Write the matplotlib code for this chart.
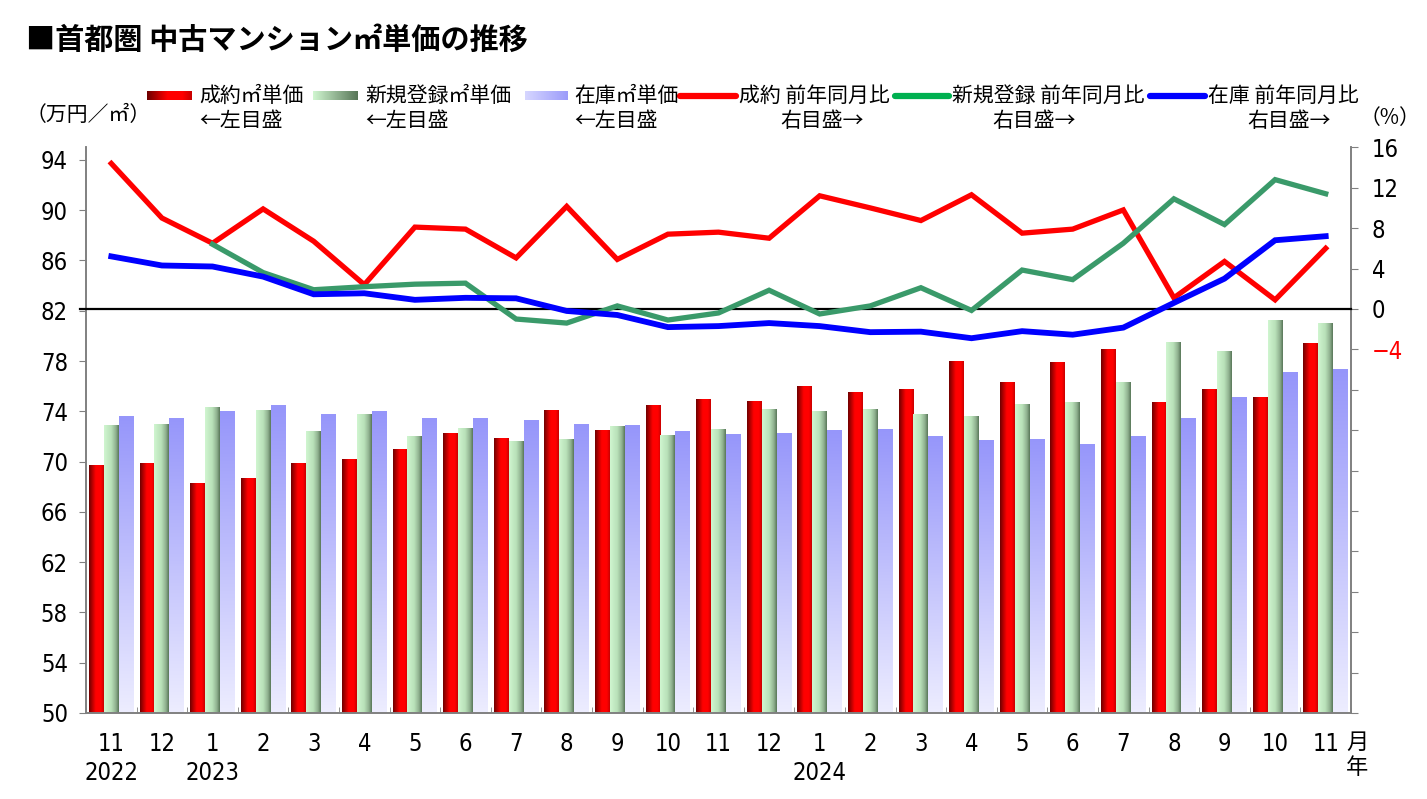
import numpy as np
import matplotlib
matplotlib.use('Agg')
import matplotlib.pyplot as plt
from matplotlib.colors import LinearSegmentedColormap
from matplotlib import font_manager

# ---------------- data ----------------
months = ['11', '12', '1', '2', '3', '4', '5', '6', '7', '8', '9', '10',
          '11', '12', '1', '2', '3', '4', '5', '6', '7', '8', '9', '10', '11']
year_labels = {0: '2022', 2: '2023', 14: '2024'}

contract_price = [69.7, 69.9, 68.3, 68.7, 69.9, 70.2, 71.0, 72.3, 71.9, 74.1, 72.5, 74.5,
                  75.0, 74.85, 76.0, 75.5, 75.8, 78.0, 76.35, 77.95, 78.95, 74.75, 75.8, 75.15, 79.4]
new_price = [72.9, 73.0, 74.35, 74.1, 72.4, 73.8, 72.0, 72.7, 71.6, 71.8, 72.8, 72.1,
             72.6, 74.2, 74.0, 74.2, 73.75, 73.65, 74.6, 74.75, 76.3, 79.5, 78.8, 81.3, 81.0]
stock_price = [73.6, 73.5, 74.0, 74.5, 73.8, 74.0, 73.5, 73.5, 73.3, 73.0, 72.9, 72.4,
               72.2, 72.3, 72.5, 72.6, 72.05, 71.7, 71.8, 71.4, 72.0, 73.5, 75.1, 77.1, 77.4]

contract_yoy = [14.4, 9.0, 6.5, 9.9, 6.7, 2.4, 8.1, 7.9, 5.05, 10.15, 4.9, 7.4,
                7.6, 7.0, 11.2, 10.0, 8.75, 11.3, 7.5, 7.9, 9.8, 1.1, 4.7, 0.9, 6.0]
new_yoy = [np.nan, np.nan, 6.4, 3.6, 1.9, 2.2, 2.45, 2.55, -1.0, -1.4, 0.3, -1.1,
           -0.4, 1.85, -0.5, 0.3, 2.1, -0.15, 3.85, 2.9, 6.5, 10.9, 8.35, 12.8, 11.4]
stock_yoy = [5.2, 4.3, 4.2, 3.2, 1.45, 1.55, 0.9, 1.1, 1.05, -0.2, -0.6, -1.8,
             -1.7, -1.4, -1.7, -2.3, -2.25, -2.9, -2.2, -2.55, -1.85, 0.6, 3.0, 6.8, 7.2]

left_ticks = list(range(50, 95, 4))
right_ticks = list(range(-40, 17, 4))

# ---------------- fonts ----------------
available = {f.name for f in font_manager.fontManager.ttflist}
if 'Liberation Sans Narrow' in available:
    NUM = dict(family='Liberation Sans Narrow')
else:
    NUM = dict(family='DejaVu Sans', stretch='condensed')
NUM_SIZE = 17
JP = ['Noto Sans CJK JP', 'DejaVu Sans']
plt.rcParams['font.family'] = JP

W, H = 1427, 799
fig = plt.figure(figsize=(W / 100, H / 100), dpi=100)
fig.patch.set_facecolor('white')

L, R, T, B = 86, 1351, 147.3, 713
ax = fig.add_axes([L / W, 1 - B / H, (R - L) / W, (B - T) / H])
ax2 = ax.twinx()

x = np.arange(len(months))
bw = 0.295

cm_red = LinearSegmentedColormap.from_list('r', [(0, '#6E0000'), (0.45, '#FF0000'), (0.8, '#FF0000'), (1, '#C80000')])
cm_green = LinearSegmentedColormap.from_list('g', [(0, '#D0F6D0'), (0.5, '#B8E0B8'), (0.8, '#8FB08F'), (1, '#587658')])
cm_blue = LinearSegmentedColormap.from_list('b', [(0, '#EDEDFF'), (1, '#9696FA')])


def grad_bars(axis, bars, cmap, direction):
    for p in bars:
        x0, y0 = p.get_x(), p.get_y()
        w, h = p.get_width(), p.get_height()
        if direction == 'h':
            arr = np.linspace(0, 1, 128).reshape(1, -1)
        else:
            arr = np.linspace(0, 1, 128).reshape(-1, 1)
        im = axis.imshow(arr, cmap=cmap, extent=[x0, x0 + w, y0, y0 + h], origin='lower',
                         aspect='auto', interpolation='bilinear', zorder=2)
        im.set_clip_path(p)
        p.set_facecolor('none')
        p.set_edgecolor('none')


b1 = ax.bar(x - bw, np.array(contract_price) - 50, bottom=50, width=bw, zorder=2)
b2 = ax.bar(x, np.array(new_price) - 50, bottom=50, width=bw, zorder=2)
b3 = ax.bar(x + bw, np.array(stock_price) - 50, bottom=50, width=bw, zorder=2)
grad_bars(ax, b1, cm_red, 'h')
grad_bars(ax, b2, cm_green, 'h')
grad_bars(ax, b3, cm_blue, 'v')

ax.set_xlim(-0.5, len(months) - 0.5)
ax.set_ylim(50, 95)
ax.set_yticks(left_ticks)
ax.set_yticklabels([str(t) for t in left_ticks], fontsize=NUM_SIZE, **NUM)
ax.set_xticks(x)
ax.set_xticklabels(months, fontsize=NUM_SIZE, **NUM)
ax.set_xticks(np.arange(-0.5, len(months), 1), minor=True)
ax.tick_params(axis='x', which='major', length=0, pad=14)
ax.tick_params(axis='x', which='minor', length=4, direction='in', color='#808080')
ax.tick_params(axis='y', length=5, color='#808080', pad=8)

# lines on right axis
ax2.plot([-0.62, len(months) - 0.5], [0, 0], color='black', lw=1.6, zorder=3, clip_on=False)
ax2.plot(x, contract_yoy, color='#FF0000', lw=3.8, solid_joinstyle='miter', zorder=4)
ax2.plot(x, new_yoy, color='#3A9A6A', lw=3.8, solid_joinstyle='miter', zorder=4)
ax2.plot(x, stock_yoy, color='#0000FF', lw=4.2, solid_joinstyle='miter', zorder=4)
ax2.set_ylim(-40, 16)
ax2.set_yticks(right_ticks)
ax2.set_yticklabels([('\u2212' + str(-t) if t < 0 else str(t)) if t >= -4 else '' for t in right_ticks],
                    fontsize=NUM_SIZE, **NUM)
for t, lab in zip(right_ticks, ax2.get_yticklabels()):
    if t == -4:
        lab.set_color('#FF0000')
ax2.tick_params(axis='y', length=5, color='#808080', pad=10)

for a in (ax, ax2):
    a.spines['top'].set_visible(False)
    for s in ('left', 'right', 'bottom'):
        a.spines[s].set_color('#808080')
        a.spines[s].set_linewidth(1.2)

for i, yl in year_labels.items():
    ax.text(i, -0.106, yl, transform=ax.get_xaxis_transform(), ha='center', va='center',
            fontsize=NUM_SIZE, **NUM)

# ---------------- overlay (title, legend, units) ----------------
ov = fig.add_axes([0, 0, 1, 1])
ov.set_xlim(0, W)
ov.set_ylim(H, 0)
ov.axis('off')

ov.text(26, 40, '■首都圏 中古マンション㎡単価の推移', fontsize=21, fontweight='bold', va='center', ha='left')
ov.text(26, 115, '（万円／㎡）', fontsize=15, va='center', ha='left')
ov.text(1360, 118, '（%）', fontsize=15, va='center', ha='left')
ov.text(1346, 742, '月', fontsize=16, va='center', ha='left')
ov.text(1346, 768, '年', fontsize=16, va='center', ha='left')


def leg_patch(x0, x1, cmap):
    arr = np.linspace(0, 1, 64).reshape(1, -1)
    ov.imshow(arr, cmap=cmap, extent=[x0, x1, 100, 91], aspect='auto', interpolation='bilinear')


leg_patch(147, 192, cm_red)
leg_patch(313, 358, LinearSegmentedColormap.from_list('g2', ['#D0F6D0', '#587658']))
leg_patch(525, 568, LinearSegmentedColormap.from_list('b2', ['#D6D6FF', '#9C9CFA']))
ov.set_xlim(0, W)
ov.set_ylim(H, 0)

FS = 15
ov.text(199, 96, '成約㎡単価', fontsize=FS, va='center', ha='left')
ov.text(199, 121, '←左目盛', fontsize=FS, va='center', ha='left')
ov.text(365, 96, '新規登録㎡単価', fontsize=FS, va='center', ha='left')
ov.text(365, 121, '←左目盛', fontsize=FS, va='center', ha='left')
ov.text(574, 96, '在庫㎡単価', fontsize=FS, va='center', ha='left')
ov.text(574, 121, '←左目盛', fontsize=FS, va='center', ha='left')

for (x0, x1, col, lab, cx) in [(680, 736, '#FF0000', '成約 前年同月比', 822),
                               (895, 949, '#00B050', '新規登録 前年同月比', 1034),
                               (1150, 1205, '#0000FF', '在庫 前年同月比', 1289)]:
    ov.plot([x0, x1], [96, 96], color=col, lw=4.5, solid_capstyle='round')
    ov.text(x1 + 3, 96, lab, fontsize=FS, va='center', ha='left')
    ov.text(cx, 121, '右目盛→', fontsize=FS, va='center', ha='center')

fig.savefig('out.png', dpi=100, facecolor='white')
